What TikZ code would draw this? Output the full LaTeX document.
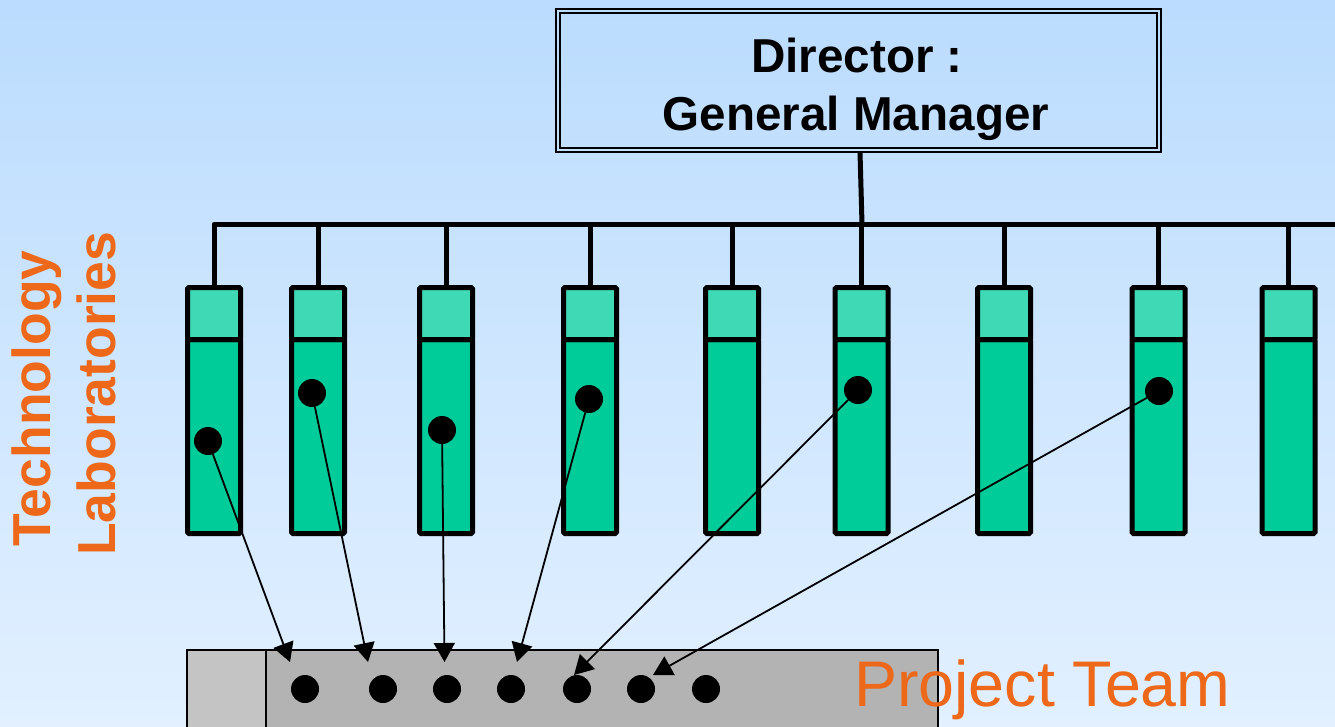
\documentclass[tikz,border=0pt]{standalone}
\usepackage{fontspec}
\setmainfont{Liberation Sans}
\usetikzlibrary{arrows.meta}
\definecolor{bgtop}{RGB}{187,220,254}
\definecolor{bgbot}{RGB}{226,240,255}
\definecolor{headgreen}{RGB}{64,217,181}
\definecolor{bodygreen}{RGB}{0,204,153}
\definecolor{teamgray}{RGB}{179,179,179}
\definecolor{sidegray}{RGB}{196,196,196}
\definecolor{accent}{RGB}{237,104,24}

\begin{document}
\begin{tikzpicture}[x=1pt,y=-1pt,
  frame/.style={draw=black, line width=1.5, inner sep=0, outer sep=0},
  bus/.style={draw=black, line width=5, line join=round},
  labhead/.style={draw=black, fill=headgreen, line width=5, rounded corners=1.5,
    minimum width=53, minimum height=52, inner sep=0, outer sep=0},
  labbody/.style={draw=black, fill=bodygreen, line width=5, rounded corners=1.5,
    minimum width=53, minimum height=194, inner sep=0, outer sep=0},
  teambox/.style={draw=black, line width=2, inner sep=0, outer sep=0, anchor=north west},
  dot/.style={circle, fill=black, minimum size=28, inner sep=0, outer sep=0},
  link/.style={draw=black, line width=1.8, -{Triangle[length=19pt,width=21pt]}},
  heading/.style={font=\bfseries\fontsize{47.6}{57}\selectfont, inner sep=0, anchor=base},
  sidetitle/.style={font=\bfseries\fontsize{53.5}{62}\selectfont, text=accent, inner sep=0,
    anchor=base west, rotate=90},
  teamtitle/.style={font=\fontsize{64.5}{74}\selectfont, text=accent, inner sep=0, anchor=base west}
]
% background
\useasboundingbox (0,0) rectangle (1335,726);
\fill[top color=bgtop, bottom color=bgbot] (0,0) rectangle (1335,726);

% director box (double frame)
\node[frame, minimum width=605, minimum height=143] (director) at (858.5,80.5) {};
\node[frame, minimum width=597, minimum height=135] (directorinner) at (858.5,80.5) {};
\node[heading] (dirtitle) at (857,72) {Director :};
\node[heading] (dirname) at (856,130) {General Manager};

% laboratory columns
\foreach \i/\cx in {1/214, 2/318, 3/446, 4/590, 5/732, 6/861.5, 7/1004, 8/1158.5, 9/1288.5} {
  \node[labbody] (body\i) at (\cx,436.5) {};
  \node[labhead] (head\i) at (\cx,313.5) {};
}

% bus connecting the laboratories to the director
\coordinate (busend) at (1345,224);
\coordinate (busjoin) at (862,224);
\draw[bus] ([xshift=1.5pt]director.south) -- (busjoin);
\draw[bus] (head1.north) |- (busend);
\foreach \i in {2,...,9} {
  \draw[bus] (head\i.north) -- (head\i.north |- busend);
}

% project team
\node[teambox, fill=sidegray, minimum width=79, minimum height=100] (teamside) at (187,650) {};
\node[teambox, fill=teamgray, minimum width=672, minimum height=100] (team) at (266,650) {};
\foreach \i/\x in {1/305, 2/383, 3/447, 4/511, 5/577, 6/641, 7/706} {
  \node[dot] (td\i) at (\x,689) {};
}

% members delegated from the laboratories
\node[dot] (ld1) at (208,441) {};
\node[dot] (ld2) at (312,393) {};
\node[dot] (ld3) at (442,430) {};
\node[dot] (ld4) at (589,399) {};
\node[dot] (ld6) at (858,390) {};
\node[dot] (ld8) at (1159,391) {};

\coordinate (tip1) at (290,662);
\coordinate (tip2) at (368,662);
\coordinate (tip3) at (444.5,662);
\coordinate (tip4) at (517,662);
\coordinate (tip6) at (574,675);
\coordinate (tip8) at (653,675);
\foreach \i in {1,2,3,4,6,8} {
  \draw[link] (ld\i) -- (tip\i);
}

% titles
\node[sidetitle] (techlab1) at (50,547) {Technology};
\node[sidetitle] (techlab2) at (115,556) {Laboratories};
\node[teamtitle] (teamlabel) at (854,706) {Project Team};
\end{tikzpicture}
\end{document}
